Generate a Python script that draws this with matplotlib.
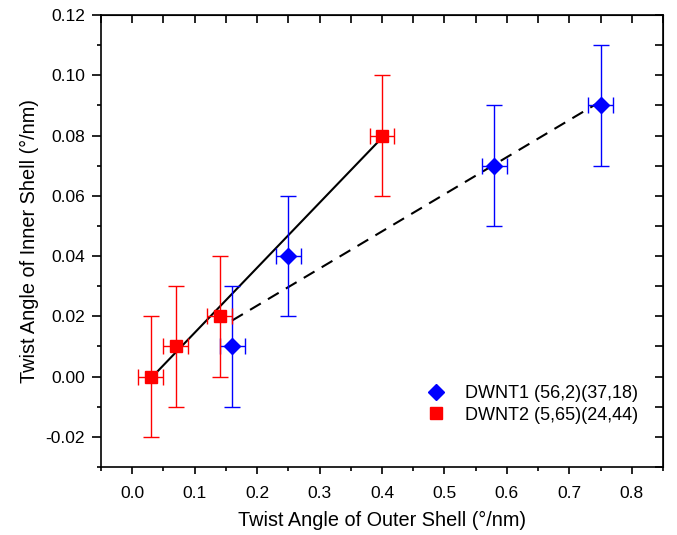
import numpy as np
import matplotlib
matplotlib.use("Agg")
import matplotlib.pyplot as plt
from matplotlib.ticker import MultipleLocator, FormatStrFormatter

plt.rcParams["font.family"] = ["Liberation Sans", "DejaVu Sans"]

# DWNT1 (56,2)(37,18)
x1 = [0.16, 0.25, 0.58, 0.75]
y1 = [0.01, 0.04, 0.07, 0.09]
# DWNT2 (5,65)(24,44)
x2 = [0.03, 0.07, 0.14, 0.40]
y2 = [0.00, 0.01, 0.02, 0.08]

xerr = 0.02
yerr = 0.02

fig = plt.figure(figsize=(6.77, 5.35), dpi=100)
ax = fig.add_axes([101 / 677, 68 / 535, 562 / 677, 452 / 535])

# linear fits
p1 = np.polyfit(x1, y1, 1)
p2 = np.polyfit(x2, y2, 1)
fx1 = np.array([min(x1), max(x1)])
fx2 = np.array([min(x2), max(x2)])
ax.plot(fx2, np.polyval(p2, fx2), "-", color="black", lw=1.5, zorder=2)
ax.plot(fx1, np.polyval(p1, fx1), "--", color="black", lw=1.5,
        dashes=(6, 4), zorder=2)

ax.errorbar(x1, y1, xerr=xerr, yerr=yerr, fmt="D", color="blue",
            ms=8, capsize=6, elinewidth=1, capthick=1, ecolor="blue",
            label="DWNT1 (56,2)(37,18)", zorder=3)
ax.errorbar(x2, y2, xerr=xerr, yerr=yerr, fmt="s", color="red",
            ms=8, capsize=6, elinewidth=1, capthick=1, ecolor="red",
            label="DWNT2 (5,65)(24,44)", zorder=3)

ax.set_xlim(-0.05, 0.85)
ax.set_ylim(-0.03, 0.12)
ax.xaxis.set_major_locator(MultipleLocator(0.1))
ax.xaxis.set_minor_locator(MultipleLocator(0.05))
ax.yaxis.set_major_locator(MultipleLocator(0.02))
ax.yaxis.set_minor_locator(MultipleLocator(0.01))
ax.xaxis.set_major_formatter(FormatStrFormatter("%.1f"))
ax.yaxis.set_major_formatter(FormatStrFormatter("%.2f"))

ax.tick_params(which="both", direction="out", width=1.2, labelsize=12.5,
               top=False, right=False)
ax.tick_params(axis="x", which="major", length=5, pad=9)
ax.tick_params(axis="x", which="minor", length=3)
ax.tick_params(axis="y", which="major", length=6.5, pad=5)
ax.tick_params(axis="y", which="minor", length=3)

# inward ticks on top and right, no labels
tx = ax.secondary_xaxis("top")
tx.xaxis.set_major_locator(MultipleLocator(0.05))
tx.tick_params(direction="in", labeltop=False, width=1.2, length=5.5)
ty = ax.secondary_yaxis("right")
ty.yaxis.set_major_locator(MultipleLocator(0.01))
ty.tick_params(direction="in", labelright=False, width=1.2, length=5.5)
for sp in ax.spines.values():
    sp.set_linewidth(1.2)

ax.set_xlabel("Twist Angle of Outer Shell (°/nm)", fontsize=14.3, labelpad=7)
ax.set_ylabel("Twist Angle of Inner Shell (°/nm)", fontsize=14.3, labelpad=5)

handles, labels = ax.get_legend_handles_labels()
handles = [h[0] for h in handles]
ax.legend(handles, labels, loc="lower right", frameon=False, fontsize=13,
          bbox_to_anchor=(0.985, 0.06), handletextpad=0.5, labelspacing=0.25,
          handlelength=2.2)

fig.savefig("out.png", dpi=100)
